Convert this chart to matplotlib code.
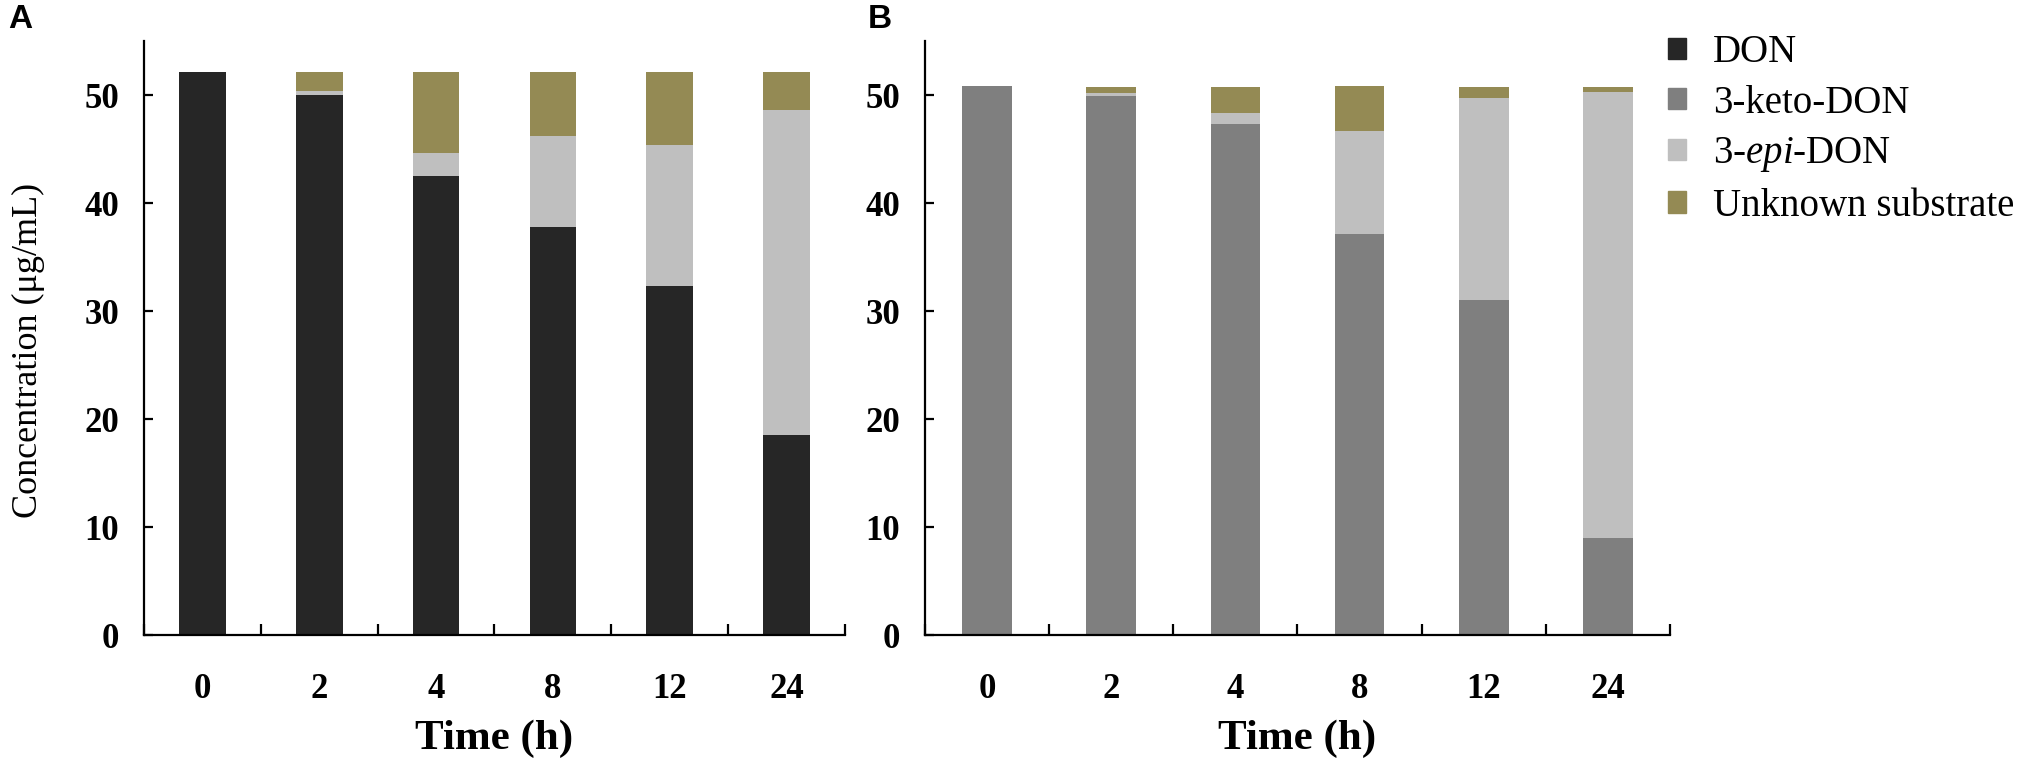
import matplotlib
matplotlib.use("Agg")
import matplotlib.pyplot as plt
import numpy as np
from matplotlib.patches import Patch

plt.rcParams["font.family"] = ["Liberation Serif", "DejaVu Serif"]
plt.rcParams["mathtext.fontset"] = "custom"
plt.rcParams["mathtext.rm"] = "Liberation Serif"
plt.rcParams["mathtext.it"] = "Liberation Serif:italic"

# data (ug/mL)
times = ["0", "2", "4", "8", "12", "24"]
don_a = [52.1, 50.0, 42.5, 37.8, 32.3, 18.5]
epi_a = [0.0, 0.4, 2.1, 8.4, 13.1, 30.1]
unknown_a = [0.0, 1.7, 7.5, 5.9, 6.7, 3.5]
keto_b = [50.8, 49.9, 47.3, 37.1, 31.0, 9.0]
epi_b = [0.0, 0.3, 1.0, 9.6, 18.75, 41.25]
unknown_b = [0.0, 0.5, 2.45, 4.1, 1.0, 0.5]

c_don = "#262626"
c_keto = "#7f7f7f"
c_epi = "#bfbfbf"
c_unk = "#948a54"

W, H = 2033, 763
fig = plt.figure(figsize=(W / 100, H / 100), dpi=100)
ax_a = fig.add_axes([144 / W, 128 / H, 701 / W, 594 / H])
ax_b = fig.add_axes([925 / W, 128 / H, 745 / W, 594 / H])


def stacked(ax, base, epi, unk, base_color):
    x = np.arange(len(times))
    base = np.array(base)
    epi = np.array(epi)
    ax.bar(x, base, width=0.4, color=base_color)
    ax.bar(x, epi, width=0.4, bottom=base, color=c_epi)
    ax.bar(x, unk, width=0.4, bottom=base + epi, color=c_unk)

    ax.set_xlim(-0.5, 5.5)
    ax.set_ylim(0, 55)
    for s in ["top", "right"]:
        ax.spines[s].set_visible(False)
    for s in ["left", "bottom"]:
        ax.spines[s].set_linewidth(1.6)

    ax.set_xticks(x)
    ax.set_xticklabels(times, fontsize=25, fontweight="bold")
    ax.set_xticks(np.arange(-0.5, 6, 1), minor=True)
    ax.tick_params(axis="x", which="major", length=0, pad=27)
    ax.tick_params(axis="x", which="minor", direction="in", length=8, width=1.6)
    ax.set_yticks([0, 10, 20, 30, 40, 50])
    ax.tick_params(axis="y", direction="in", length=6.5, width=1.6, pad=18,
                   labelsize=25)
    for lab in ax.get_yticklabels():
        lab.set_fontweight("bold")
    ax.set_xlabel("Time (h)", fontsize=31, fontweight="bold", labelpad=10)


stacked(ax_a, don_a, epi_a, unknown_a, c_don)
stacked(ax_b, keto_b, epi_b, unknown_b, c_keto)

fig.text(28 / W, 1 - 350 / H, "Concentration (\u03bcg/mL)", rotation=90,
         ha="center", va="center", fontsize=26)

fig.text(8 / W, 1 - 4 / H, "A", family="Liberation Sans", fontweight="bold",
         fontsize=24, ha="left", va="top")
fig.text(868 / W, 1 - 4 / H, "B", family="Liberation Sans", fontweight="bold",
         fontsize=24, ha="left", va="top")

handles = [Patch(color=c_don), Patch(color=c_keto), Patch(color=c_epi),
           Patch(color=c_unk)]
labels = ["DON", "3-keto-DON", r"3-$\mathit{epi}$-DON", "Unknown substrate"]
fig.legend(handles, labels, loc="upper left", bbox_to_anchor=(1668 / W, 1 - 34 / H),
           frameon=False, fontsize=28, handlelength=0.46, handleheight=0.46,
           handletextpad=0.7, labelspacing=0.35, borderpad=0, borderaxespad=0)

fig.savefig("out.png", dpi=100)
